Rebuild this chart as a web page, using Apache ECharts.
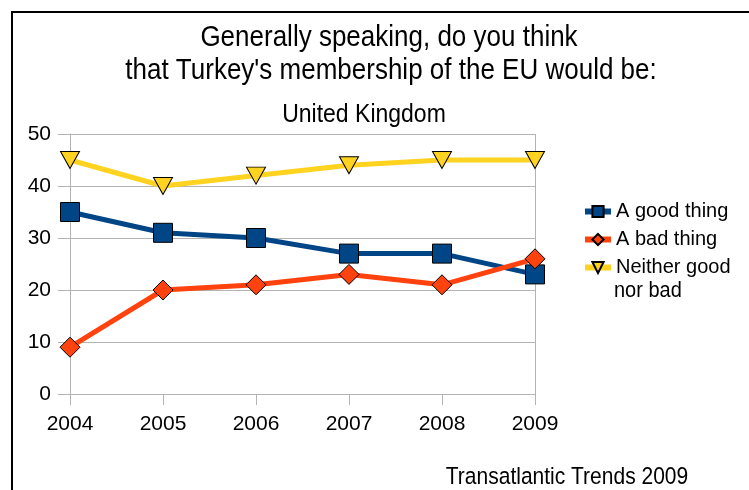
<!DOCTYPE html>
<html>
<head>
<meta charset="utf-8">
<script src="https://cdn.jsdelivr.net/npm/echarts@6/dist/echarts.min.js"></script>
<style>
  html, body { margin: 0; padding: 0; background: #fff; }
  #chart { width: 749px; height: 490px; }
</style>
</head>
<body>
<div id="chart"></div>
<script>
// Survey years on the category axis
const years = ['2004', '2005', '2006', '2007', '2008', '2009'];

// Share of respondents (%) per answer
const goodThing = [35, 31, 30, 27, 27, 23];
const badThing = [9, 20, 21, 23, 21, 26];
const neither = [45, 40, 42, 44, 45, 45];

const seriesNames = ['A good thing', 'A bad thing', 'Neither good nor bad'];

const titleLines = ['Generally speaking, do you think', "that Turkey's membership of the EU would be:"];
const subtitle = 'United Kingdom';
const source = 'Transatlantic Trends 2009';

const FONT = '"Liberation Sans", Arial, sans-serif';
const GRID_GREY = '#b3b3b3';

const chart = echarts.init(document.getElementById('chart'), null, { renderer: 'canvas' });

function lineSeries(name, data, color, symbol, size, rotate) {
  return {
    name: name,
    type: 'line',
    data: data,
    symbol: symbol,
    symbolSize: size,
    symbolRotate: rotate || 0,
    showAllSymbol: true,
    lineStyle: { color: color, width: 5 },
    itemStyle: { color: color, borderColor: '#000', borderWidth: 1 },
    emphasis: { disabled: true },
    animation: false
  };
}

// slightly tall text, anchored at its own centre
function label(text, x, y, size, align) {
  return {
    type: 'text', x: x, y: y, scaleY: 1.12,
    style: { text: text, align: align || 'center', verticalAlign: 'middle',
      font: size + 'px ' + FONT, fill: '#000' }
  };
}

chart.setOption({
  animation: false,
  textStyle: { fontFamily: FONT },
  graphic: [
    // outer frame (top and left edges)
    { type: 'polyline', shape: { points: [[12, 490], [12, 12], [749, 12]] },
      style: { stroke: '#000', lineWidth: 2, fill: null } },
    label(titleLines[0], 389, 38, 26),
    label(titleLines[1], 391, 71, 26),
    label(subtitle, 364, 115, 23),
    label(source, 567, 478, 21),
    // second line of the third legend entry
    label('nor bad', 614, 291, 20, 'left')
  ],
  legend: {
    orient: 'vertical',
    left: 582,
    top: 200,
    padding: 0,
    itemGap: 5,
    itemWidth: 26,
    itemHeight: 14,
    lineStyle: { width: 6 },
    data: seriesNames,
    formatter: function (name) { return name === seriesNames[2] ? 'Neither good' : name; },
    textStyle: { fontSize: 20, color: '#000', fontFamily: FONT, lineHeight: 23 },
    selectedMode: false
  },
  grid: { left: 70, right: 214, top: 134, bottom: 96, containLabel: false },
  xAxis: {
    type: 'category',
    data: years,
    boundaryGap: false,
    axisLine: { show: true, lineStyle: { color: GRID_GREY, width: 1 } },
    axisTick: { show: true, length: 11, lineStyle: { color: GRID_GREY } },
    axisLabel: { fontSize: 21, color: '#000', margin: 20, fontFamily: FONT },
    splitLine: {
      show: true,
      interval: function (index) { return index === 0 || index === years.length - 1; },
      lineStyle: { color: GRID_GREY, width: 1 }
    }
  },
  yAxis: {
    type: 'value',
    min: 0,
    max: 50,
    interval: 10,
    axisLine: { show: true, lineStyle: { color: GRID_GREY, width: 1 } },
    axisTick: { show: true, length: 12, lineStyle: { color: GRID_GREY } },
    axisLabel: { fontSize: 21, color: '#000', margin: 19, fontFamily: FONT },
    splitLine: { show: true, lineStyle: { color: GRID_GREY, width: 1 } }
  },
  series: [
    lineSeries(seriesNames[0], goodThing, '#004586', 'rect', 19),
    lineSeries(seriesNames[1], badThing, '#ff420e', 'diamond', 20),
    lineSeries(seriesNames[2], neither, '#ffd320', 'triangle', [19, 17], 180)
  ]
});
</script>
</body>
</html>
